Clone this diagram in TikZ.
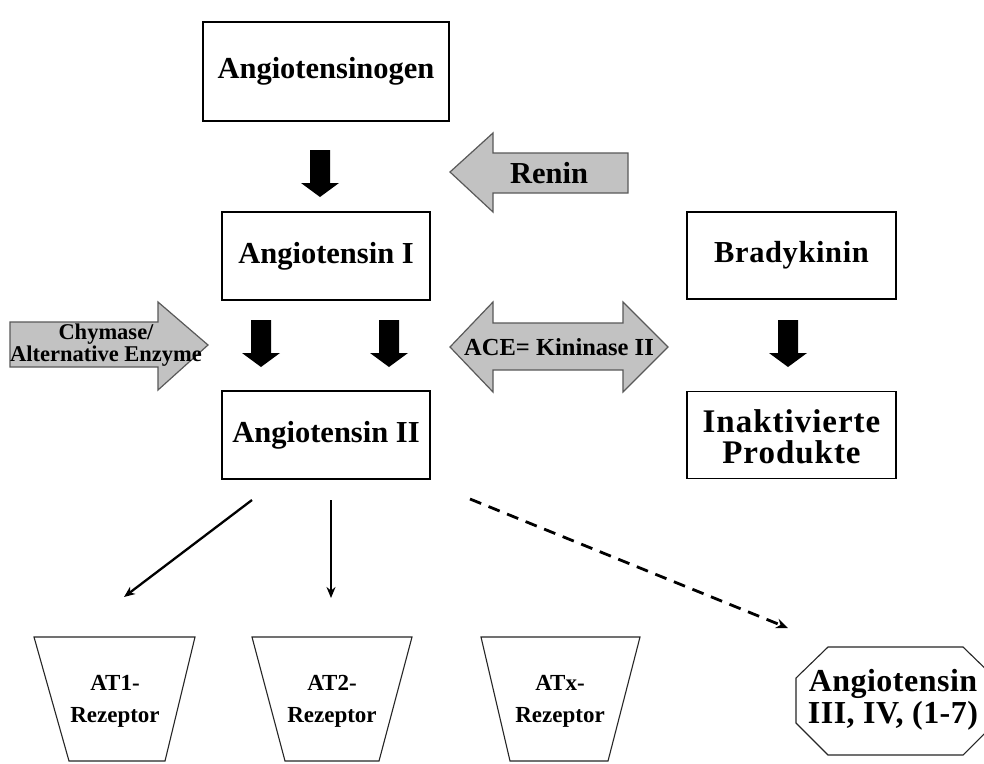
\documentclass[tikz,border=0pt]{standalone}
\usepackage{fontspec}
\setmainfont{Liberation Serif}
\usetikzlibrary{arrows.meta}
\begin{document}
\begin{tikzpicture}[x=1pt,y=-1pt,
  box/.style={draw=black,line width=1.3pt,fill=white,inner sep=0pt,font=\fontsize{30.5}{31}\selectfont\bfseries,align=center},
  grayarrow/.style={draw=black!65,line width=1.2pt,fill=black!24},
  blk/.style={fill=black},
  lbl/.style={inner sep=0pt,align=center,font=\bfseries},
  thin/.style={line width=2.3pt,-{Stealth[length=11pt,width=9pt]}},
  dashedarrow/.style={line width=2.8pt,dash pattern=on 12pt off 8pt,-{Stealth[length=12pt,width=10pt]}},
  recep/.style={draw=black!85,line width=1.1pt}
]
\useasboundingbox[fill=white] (0,0) rectangle (984,763);

% boxes
\node[box,minimum width=246pt,minimum height=99pt] (agen) at (326,71.5) {Angiotensinogen};
\node[box,minimum width=208pt,minimum height=88pt] (a1) at (326,256) {Angiotensin I};
\node[box,minimum width=209pt,minimum height=87pt] (brady) at (791.5,255.5) {\addfontfeatures{LetterSpace=2}Bradykinin};
\node[box,minimum width=208pt,minimum height=88pt] (a2) at (326,435) {Angiotensin II};
\node[box,minimum width=209pt,minimum height=87pt,font=\fontsize{33}{31}\selectfont\bfseries\addfontfeatures{LetterSpace=3}] (inakt) at (791.5,435) {\rule{0pt}{27pt}Inaktivierte\\Produkte};

% black block arrows
\newcommand\blkdown[2]{\fill[blk,shift={(#1,#2)}] (-10,0) -- (10,0) -- (10,33) -- (19,33) -- (0,47) -- (-19,33) -- (-10,33) -- cycle;}
\blkdown{320}{150}
\blkdown{261}{320}
\blkdown{389}{320}
\blkdown{788}{320}

% Renin arrow
\draw[grayarrow] (450,172) -- (493,133) -- (493,153) -- (628,153) -- (628,193) -- (493,193) -- (493,212) -- cycle;
\node[lbl,font=\fontsize{30.5}{31}\selectfont\bfseries] (renin) at (549,173) {Renin};

% Chymase arrow
\draw[grayarrow] (10,322) -- (158,322) -- (158,302) -- (208,345) -- (158,390) -- (158,367) -- (10,367) -- cycle;
\node[lbl,font=\fontsize{22.5}{22}\selectfont\bfseries] (chym) at (106,345) {Chymase/\\Alternative Enzyme};

% ACE double arrow
\draw[grayarrow] (450,347) -- (493,302) -- (493,323) -- (623,323) -- (623,302) -- (668,347) -- (623,392) -- (623,370) -- (493,370) -- (493,392) -- cycle;
\node[lbl,font=\fontsize{24.5}{26}\selectfont\bfseries] (ace) at (559,347) {ACE= Kininase II};

% receptors
\draw[recep] (34,637) -- (195,637) -- (165,761) -- (69,761) -- cycle;
\node[lbl,font=\fontsize{23}{32}\selectfont\bfseries] (at1) at (115,701) {AT1-\\Rezeptor};
\draw[recep] (252,637) -- (412,637) -- (379,761) -- (285,761) -- cycle;
\node[lbl,font=\fontsize{23}{32}\selectfont\bfseries] (at2) at (332,701) {AT2-\\Rezeptor};
\draw[recep] (481,637) -- (640,637) -- (608,761) -- (510,761) -- cycle;
\node[lbl,font=\fontsize{23}{32}\selectfont\bfseries] (atx) at (560,701) {ATx-\\Rezeptor};

% octagon
\draw[recep] (796,678) -- (828,647) -- (963,647) -- (995,678) -- (995,723) -- (963,755) -- (828,755) -- (796,723) -- cycle;
\node[lbl,font=\fontsize{32}{32}\selectfont\bfseries\addfontfeatures{LetterSpace=1.5}] (a3) at (893,700) {Angiotensin\\III, IV, (1-7)};

% thin connectors
\coordinate (s1) at (252,500);
\coordinate (e1) at (124,597);
\coordinate (s2) at (331,500);
\coordinate (e2) at (331,598);
\coordinate (s3) at (470,499);
\coordinate (e3) at (788,628);
\draw[thin] (s1) -- (e1);
\draw[thin] (s2) -- (e2);
\draw[dashedarrow] (s3) -- (e3);
\end{tikzpicture}
\end{document}
